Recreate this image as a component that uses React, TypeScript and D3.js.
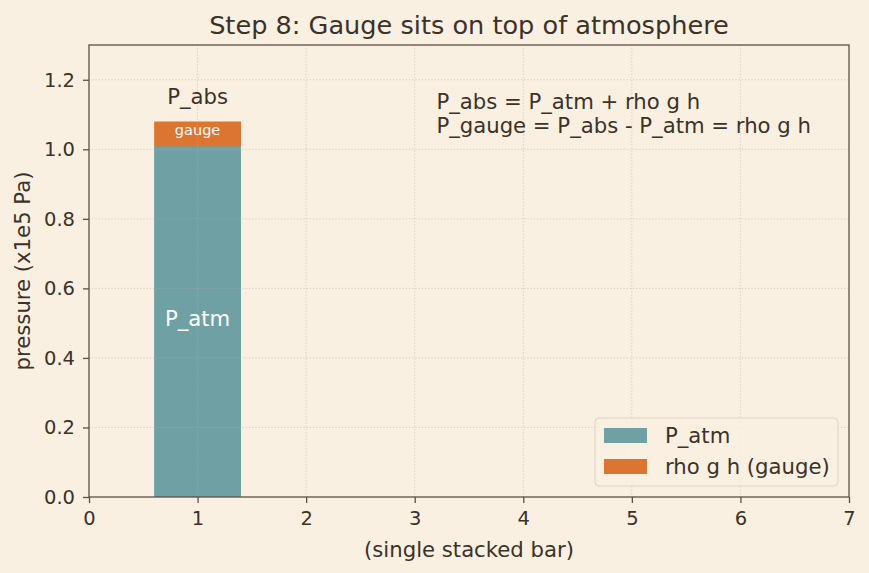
import React, { useEffect, useRef } from "react";
import * as d3 from "d3";

// values (x1e5 Pa)
const barX = [1];
const pAtm = [1.01];
const gauge = [0.07];
const xTicks = [0, 1, 2, 3, 4, 5, 6, 7];
const yTicks = [0, 0.2, 0.4, 0.6, 0.8, 1.0, 1.2];
const legendItems = ["P_atm", "rho g h (gauge)"];
const noteLines = ["P_abs = P_atm + rho g h", "P_gauge = P_abs - P_atm = rho g h"];

const W = 869;
const H = 573;
const BG = "#f9f0e2";
const INK = "#3b3228";
const SPINE = "#5b5046";
const TEAL = "#6fa0a4";
const ORANGE = "#dc7531";
const FONT = "'DejaVu Sans', sans-serif";
const FS = 21.2;

const App: React.FC = () => {
  const svgRef = useRef<SVGSVGElement>(null);

  useEffect(() => {
    if (!svgRef.current) return;
    const root = d3.select(svgRef.current);
    root.selectAll("*").remove();

    const m = { left: 89, right: 849, top: 45, bottom: 497 };
    const x = d3.scaleLinear().domain([0, 7]).range([m.left, m.right]);
    const y = d3.scaleLinear().domain([0, 1.3]).range([m.bottom, m.top]);

    root.append("rect").attr("width", W).attr("height", H).attr("fill", BG);

    // bars
    const bw = 0.8;
    root.selectAll("rect.atm").data(barX).join("rect")
      .attr("x", (d) => x(d - bw / 2))
      .attr("width", (d) => x(d + bw / 2) - x(d - bw / 2))
      .attr("y", (_, i) => y(pAtm[i]))
      .attr("height", (_, i) => y(0) - y(pAtm[i]))
      .attr("fill", TEAL);
    root.selectAll("rect.g").data(barX).join("rect")
      .attr("x", (d) => x(d - bw / 2))
      .attr("width", (d) => x(d + bw / 2) - x(d - bw / 2))
      .attr("y", (_, i) => y(pAtm[i] + gauge[i]))
      .attr("height", (_, i) => y(pAtm[i]) - y(pAtm[i] + gauge[i]) + 0.5)
      .attr("fill", ORANGE);

    // grid (drawn over the bars, as in the reference)
    const grid = root.append("g").attr("stroke", "#b8b0a2").attr("stroke-opacity", 0.7)
      .attr("stroke-width", 0.8).attr("stroke-dasharray", "1.2,2");
    grid.selectAll("line.gx").data(xTicks.slice(1, -1)).join("line")
      .attr("x1", (d) => x(d)).attr("x2", (d) => x(d))
      .attr("y1", m.top).attr("y2", m.bottom);
    grid.selectAll("line.gy").data(yTicks.slice(1)).join("line")
      .attr("y1", (d) => y(d)).attr("y2", (d) => y(d))
      .attr("x1", m.left).attr("x2", m.right);

    // bar labels
    barX.forEach((bx, i) => {
      root.append("text").attr("x", x(bx)).attr("y", y(pAtm[i] / 2) - 3)
        .attr("text-anchor", "middle").attr("dominant-baseline", "central")
        .attr("font-family", FONT).attr("font-size", FS).attr("fill", "#ffffff")
        .text("P_atm");
      root.append("text").attr("x", x(bx)).attr("y", y(pAtm[i] + gauge[i] / 2) - 4)
        .attr("text-anchor", "middle").attr("dominant-baseline", "central")
        .attr("font-family", FONT).attr("font-size", 14.5).attr("fill", "#ffffff")
        .text("gauge");
      root.append("text").attr("x", x(bx)).attr("y", y(pAtm[i] + gauge[i] + 0.07) - 1)
        .attr("text-anchor", "middle").attr("dominant-baseline", "central")
        .attr("font-family", FONT).attr("font-size", FS).attr("fill", INK)
        .text("P_abs");
    });

    // note
    const note = root.append("text").attr("font-family", FONT).attr("font-size", FS)
      .attr("fill", INK);
    noteLines.forEach((t, i) => {
      note.append("tspan").attr("x", x(3.2)).attr("y", y(1.1) + (i - 0.5) * 24 - 1)
        .attr("dominant-baseline", "central").text(t);
    });

    // spines
    root.append("rect").attr("x", m.left).attr("y", m.top)
      .attr("width", m.right - m.left).attr("height", m.bottom - m.top)
      .attr("fill", "none").attr("stroke", SPINE).attr("stroke-width", 1.3);

    // axes
    const xAxis = root.append("g").attr("transform", `translate(0,${m.bottom})`)
      .call(d3.axisBottom(x).tickValues(xTicks).tickFormat(d3.format("d")).tickSize(6).tickPadding(8));
    const yAxis = root.append("g").attr("transform", `translate(${m.left},0)`)
      .call(d3.axisLeft(y).tickValues(yTicks).tickFormat(d3.format(".1f")).tickSize(6).tickPadding(8));
    [xAxis, yAxis].forEach((a) => {
      a.select(".domain").remove();
      a.selectAll("line").attr("stroke", SPINE).attr("stroke-width", 1.3);
      a.selectAll("text").attr("fill", INK).attr("font-family", FONT).attr("font-size", 19.5);
    });

    // titles
    root.append("text").attr("x", (m.left + m.right) / 2).attr("y", 25)
      .attr("text-anchor", "middle").attr("dominant-baseline", "central")
      .attr("font-family", FONT).attr("font-size", 25.6).attr("fill", INK)
      .text("Step 8: Gauge sits on top of atmosphere");
    root.append("text").attr("x", (m.left + m.right) / 2).attr("y", 549)
      .attr("text-anchor", "middle").attr("dominant-baseline", "central")
      .attr("font-family", FONT).attr("font-size", FS).attr("fill", INK)
      .text("(single stacked bar)");
    root.append("text")
      .attr("transform", `translate(22,${(m.top + m.bottom) / 2}) rotate(-90)`)
      .attr("text-anchor", "middle").attr("dominant-baseline", "central")
      .attr("font-family", FONT).attr("font-size", FS).attr("fill", INK)
      .text("pressure (x1e5 Pa)");

    // legend
    const lg = root.append("g").attr("transform", "translate(595,418)");
    lg.append("rect").attr("width", 243).attr("height", 68).attr("rx", 4)
      .attr("fill", "#f9f0e2").attr("fill-opacity", 0.85)
      .attr("stroke", "#ddd4c6").attr("stroke-width", 1);
    const colors = [TEAL, ORANGE];
    legendItems.forEach((t, i) => {
      lg.append("rect").attr("x", 9).attr("y", 10 + i * 31).attr("width", 43).attr("height", 15)
        .attr("fill", colors[i]);
      lg.append("text").attr("x", 70).attr("y", 17 + i * 31)
        .attr("dominant-baseline", "central").attr("font-family", FONT)
        .attr("font-size", FS).attr("fill", INK).text(t);
    });
  }, []);

  return (
    <div style={{ position: "absolute", left: 0, top: 0, width: W, height: H }}>
      <svg ref={svgRef} width={W} height={H} style={{ display: "block" }} />
    </div>
  );
};

export default App;
